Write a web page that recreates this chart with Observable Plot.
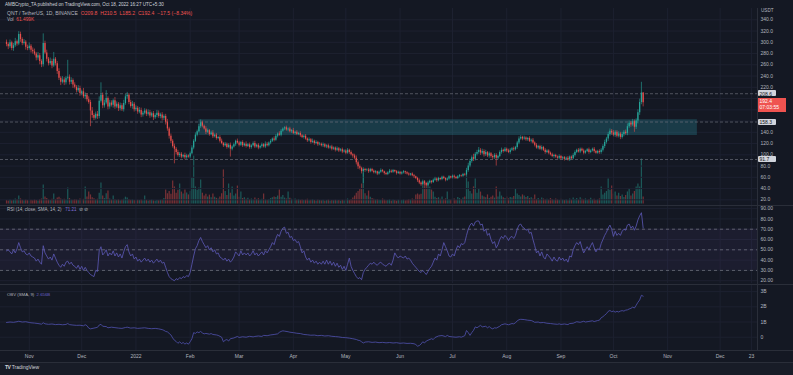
<!DOCTYPE html>
<html><head><meta charset="utf-8">
<script src="https://cdn.jsdelivr.net/npm/d3@7"></script>
<script src="https://cdn.jsdelivr.net/npm/@observablehq/plot@0.6"></script>
<style>
html,body{margin:0;padding:0;background:#131722;}
#root{position:relative;width:793px;height:375px;background:#141823;overflow:hidden;font-family:"Liberation Sans",Arial,sans-serif;}
#root svg{position:absolute;left:0;overflow:visible;}
.t{position:absolute;white-space:nowrap;line-height:1;}
.sep{position:absolute;background:#2a2e39;}
</style></head><body><div id="root"></div>
<script>
// ---------------- DATA ----------------
const firstDay = "2021-10-19";
const firstOpen = 300;
const closes = [
296,292,299,289,294,301,297,314,305,298,
300,291,289,293,286,283,279,272,276,266,
260,298,281,270,262,266,258,270,262,248,
236,229,233,228,236,238,229,232,224,220,
214,218,209,212,203,206,198,193,178,170,
165,172,168,195,206,187,192,200,185,192,
188,196,185,190,182,187,180,191,203,206,
193,186,190,180,183,176,179,171,174,178,
172,175,169,173,166,170,174,168,171,165,
168,158,146,133,124,115,110,104,99,101,
96,99,95,98,96,102,112,124,135,141,
150,157,151,146,140,143,136,139,132,135,
129,131,124,120,116,119,113,117,110,114,
118,124,121,117,122,116,119,115,118,113,
116,120,114,117,112,115,118,114,119,116,
121,124,128,126,133,137,135,142,146,148,
144,146,141,143,138,140,136,138,134,131,
133,128,125,127,122,124,120,122,118,119,
116,118,114,116,112,114,110,112,108,111,
107,109,105,107,103,108,104,100,98,94,
86,79,76,70,74,72,73,70,74,71,
68,70,66,69,72,70,67,65,68,71,
69,72,70,67,69,66,68,70,68,66,
64,66,63,61,58,54,50,47,52,49,
46,50,53,51,55,57,54,58,56,60,
58,55,57,61,59,62,60,58,61,63,
62,65,64,72,80,88,95,92,101,104,
108,103,106,100,104,98,102,97,95,99,
94,97,104,108,106,110,107,104,108,111,
109,113,121,128,131,128,130,127,129,124,
126,121,117,112,115,110,113,108,104,107,
103,100,97,99,96,94,97,93,95,92,
94,91,96,93,99,104,108,105,110,107,
103,106,109,104,107,110,106,103,106,104,
108,115,122,128,136,142,139,135,140,133,
137,131,136,140,138,150,156,153,159,149,
160,175,193,209.9,192.4];
const upWick = [
4,3,5,3,4,6,3,5,4,3, 5,3,4,6,3,4,5,3,6,4, 3,17,4,5,3,6,4,12,3,4, 5,3,6,4,3,30,4,5,3,4,
3,5,4,3,6,4,3,5,4,6, 3,4,5,8,22,4,5,14,3,5, 4,3,6,4,3,5,4,6,4,5, 3,4,5,3,4,3,5,4,3,4,
3,5,4,3,4,3,5,4,3,4, 3,4,5,3,4,3,4,3,4,3, 3,2,4,3,2,3,4,3,4,3, 4,5,3,2,4,3,2,3,4,2,
3,2,3,4,2,3,2,3,4,2, 3,2,4,3,2,3,2,4,2,3, 2,3,4,2,3,2,3,2,4,3, 2,3,2,4,3,2,4,3,2,2,
3,2,3,2,4,2,3,2,3,2, 2,3,2,3,2,4,2,3,2,3, 2,3,2,2,3,2,3,2,2,3, 2,2,3,2,2,3,2,3,2,3,
4,3,3,2,3,2,2,3,2,2, 2,2,1,2,3,2,1,2,2,3, 2,2,1,2,2,1,2,2,1,2, 2,1,2,2,1,2,3,2,3,2,
2,3,2,1,2,3,2,2,1,2, 2,1,2,2,1,2,2,1,2,2, 1,2,2,4,5,4,3,6,3,4, 5,3,4,3,4,2,3,2,3,3,
3,2,3,4,2,3,2,3,3,2, 3,2,3,4,3,2,3,2,2,3, 2,3,2,3,2,2,3,2,3,2, 2,2,3,2,2,2,3,2,2,2,
2,3,2,2,3,3,2,3,2,2, 3,2,2,3,2,2,3,2,2,3, 3,3,4,3,4,4,3,4,3,3, 4,3,4,3,4,5,4,3,4,3,
4,5,6,19,0.7];
const downWick = [
4,5,3,4,5,3,4,3,5,4, 3,5,4,3,5,4,3,5,4,6, 5,4,3,5,4,3,5,3,4,5, 4,6,3,5,4,3,5,4,6,3,
4,3,5,4,3,5,4,3,28,5, 4,3,5,4,3,5,4,3,5,4, 3,5,4,3,5,4,3,4,3,4, 4,3,5,4,3,4,3,5,4,3,
4,3,4,3,5,3,4,3,4,5, 4,5,4,5,4,3,26,4,3,4, 3,2,4,3,2,3,2,3,2,3, 2,3,3,2,4,2,3,2,3,2,
3,2,3,2,3,2,3,2,14,3, 2,3,2,3,2,3,2,3,2,3, 3,2,3,2,3,2,3,2,3,2, 2,3,2,3,2,3,2,3,2,3,
2,3,2,3,2,3,2,2,3,2, 3,2,3,2,3,2,3,2,3,2, 2,3,2,3,2,2,3,2,3,2, 3,2,3,2,3,2,3,2,4,3,
4,5,3,4,21,3,2,3,2,2, 2,2,3,2,2,2,3,2,2,2, 2,2,2,3,2,2,2,2,3,2, 2,2,2,3,2,3,3,3,2,3,
2,2,2,3,2,2,3,2,2,2, 2,3,2,2,2,2,3,2,2,2, 2,2,2,2,3,3,3,4,3,3, 3,4,3,4,3,3,4,3,4,3,
14,3,2,3,3,2,3,2,3,2, 3,2,3,3,2,3,2,3,3,2, 3,2,3,2,3,2,3,2,3,2, 3,2,2,3,2,2,3,2,2,3,
2,2,3,2,2,3,2,2,3,2, 3,2,2,3,2,2,3,2,2,3, 3,3,4,3,4,3,4,3,4,3, 3,4,3,4,3,4,3,4,3,9,
4,5,5,4,7.2];
const volumeK = [
30,26,35,28,33,44,38,70,45,32, 28,35,30,26,33,29,36,31,27,40, 44,167,62,48,36,31,42,88,40,52, 60,45,38,41,35,140,48,36,33,40,
37,30,44,36,41,150,62,105,80,55, 46,38,42,95,185,70,48,90,114,44, 36,70,40,33,38,29,35,42,60,52, 40,33,37,30,28,34,31,36,29,70,
32,27,30,35,28,26,31,29,33,36, 48,123,90,110,85,202,150,95,120,176, 105,88,123,96,80,110,230,422,150,120, 140,211,95,70,85,62,78,55,88,60,
50,45,62,90,300,110,75,176,95,150, 70,88,158,60,105,48,55,42,50,38, 44,36,52,40,47,35,42,88,38,33, 40,48,55,62,58,70,123,60,75,52,
45,105,50,42,38,44,35,40,33,37, 30,35,42,28,33,38,30,26,35,31, 28,32,26,30,35,27,31,29,33,28, 30,26,34,29,37,44,31,40,52,70,
95,110,130,176,273,90,70,114,60,48, 42,36,40,33,30,44,35,28,31,38, 27,35,30,26,33,29,31,36,28,32, 40,35,44,38,80,88,79,85,160,202,
180,176,150,123,105,60,48,55,42,62, 38,45,105,40,36,50,44,33,58,48, 40,53,62,246,194,110,88,150,220,95, 132,105,70,62,55,80,48,60,70,52,
150,62,105,70,55,48,62,45,58,52, 66,132,88,75,62,80,70,58,66,48, 55,44,79,40,48,36,52,44,38,42, 35,48,40,33,44,37,30,42,36,31,
38,29,44,35,52,40,48,36,55,42, 38,45,33,40,50,36,42,31,38,44, 150,80,95,110,220,120,158,88,105,70, 95,66,80,58,75,106,132,70,88,110,
150,176,150,396,61.499];
const rsi = [
49,50,48,46,50,47,51,57,52,48, 49,46,45,47,44,43,42,39,41,38, 36,54,47,44,41,43,40,46,42,38, 35,33,36,34,38,39,36,38,35,34,
32,35,31,34,30,33,30,28,26,25, 24,30,29,49,53,45,47,50,44,47, 45,49,44,47,43,46,42,48,53,55, 48,44,46,41,43,39,41,38,40,42,
39,41,38,40,37,39,41,38,40,37, 38,33,28,24,22,21,20,22,21,23, 22,24,23,25,24,28,36,44,51,54, 59,62,58,55,52,54,50,52,48,50,
46,47,43,42,40,42,39,41,38,40, 43,48,46,44,49,45,47,45,47,44, 46,49,45,47,44,46,48,45,49,47, 50,53,57,55,61,65,63,68,71,72,
66,67,62,63,59,60,57,58,53,47, 49,43,40,42,38,40,37,39,36,38, 36,39,36,40,36,39,35,38,34,37, 33,35,31,34,30,36,42,34,30,27,
24,22,23,21,28,31,33,35,37,36, 38,36,35,37,38,36,35,34,36,37, 35,40,47,44,42,44,43,42,44,41, 42,40,37,35,33,31,29,28,30,28,
26,29,32,34,38,42,40,46,44,50, 57,53,49,44,43,46,44,50,54,52, 56,55,57,64,70,74,76,73,77,78, 78,74,75,68,70,64,66,60,56,58,
52,55,60,63,61,64,62,59,62,63, 61,64,70,74,75,72,71,69,70,66, 67,60,54,47,49,44,48,43,41,46, 44,42,39,43,40,39,43,40,42,39,
41,38,44,43,50,54,57,55,58,52, 47,50,53,50,54,57,52,48,51,50, 56,60,64,67,71,74,70,63,68,64, 66,64,68,70,69,74,75,71,73,69,
73,79,83,86,71.21];
const obvSamples = [ // [day index, OBV in billions]
[0,0.97],[2,1.0],[4,0.98],[6,1.02],[7,1.05],[9,1.0],[11,1.02],[13,0.97],[14,0.95],[16,0.93],[18,0.9],[20,0.86],[21,0.95],[22,0.88],
[24,0.85],[26,0.87],[28,0.83],[30,0.85],[32,0.82],[34,0.84],[35,0.9],[36,0.83],[38,0.8],[40,0.78],[42,0.79],[44,0.75],[45,0.82],
[46,0.76],[47,0.6],[48,0.55],[50,0.6],[52,0.65],[53,0.8],[54,0.85],[55,0.72],[57,0.7],[58,0.62],[60,0.66],[62,0.63],[64,0.6],
[66,0.58],[68,0.64],[69,0.66],[71,0.6],[73,0.62],[75,0.58],[77,0.6],[79,0.62],[81,0.58],[83,0.56],[85,0.58],[87,0.55],[89,0.5],
[90,0.45],[91,0.38],[92,0.35],[93,0.25],[94,0.15],[95,-0.05],[96,-0.2],[97,-0.28],[98,-0.4],[99,-0.3],[100,-0.42],[101,-0.35],
[102,-0.45],[103,-0.38],[104,-0.46],[105,-0.3],[106,-0.1],[107,0.3],[108,0.25],[109,0.35],[110,0.3],[111,0.38],[112,0.28],
[113,0.22],[114,0.25],[116,0.2],[117,0.24],[118,0.18],[120,0.15],[121,0.12],[123,0.0],[124,-0.3],[125,-0.2],[126,-0.15],
[127,-0.25],[128,-0.1],[130,-0.05],[132,0.05],[133,-0.02],[135,0.03],[137,0.0],[139,0.06],[141,0.02],[142,0.05],[144,0.08],
[146,0.05],[147,0.12],[149,0.1],[151,0.15],[153,0.18],[155,0.22],[156,0.32],[157,0.38],[158,0.42],[159,0.4],[161,0.36],
[162,0.33],[164,0.3],[166,0.26],[168,0.24],[170,0.18],[172,0.16],[174,0.13],[176,0.14],[178,0.1],[180,0.12],[182,0.08],
[184,0.1],[186,0.06],[188,0.04],[190,0.02],[192,-0.02],[194,-0.03],[196,-0.06],[198,-0.1],[200,-0.15],[201,-0.2],[202,-0.22],
[203,-0.3],[204,-0.38],[205,-0.32],[207,-0.3],[209,-0.34],[211,-0.32],[213,-0.36],[215,-0.34],[217,-0.37],[219,-0.35],
[221,-0.38],[223,-0.36],[225,-0.4],[227,-0.38],[229,-0.41],[231,-0.4],[233,-0.43],[234,-0.48],[235,-0.59],[236,-0.55],
[237,-0.45],[238,-0.3],[239,-0.38],[240,-0.25],[241,-0.2],[243,-0.1],[244,-0.15],[245,-0.02],[247,0.08],[249,0.11],[251,0.04],
[252,0.12],[253,0.05],[255,0.02],[257,0.0],[259,0.03],[260,0.0],[262,0.1],[263,0.44],[264,0.3],[265,0.12],[266,0.3],[267,0.45],
[268,0.68],[269,0.62],[270,0.7],[271,0.78],[272,0.68],[274,0.72],[275,0.62],[276,0.7],[277,0.6],[278,0.55],[279,0.62],[280,0.6],
[282,0.72],[283,0.82],[285,0.88],[286,0.85],[287,0.82],[289,0.9],[290,0.88],[291,0.95],[292,1.08],[293,1.15],[294,1.18],
[296,1.16],[298,1.12],[300,1.1],[301,1.05],[302,0.98],[304,1.0],[305,0.95],[307,0.97],[309,0.92],[311,0.9],[313,0.87],
[315,0.85],[316,0.88],[317,0.84],[319,0.87],[321,0.83],[322,0.9],[324,0.92],[325,0.97],[326,1.02],[328,0.98],[330,1.05],
[331,1.0],[333,1.04],[335,1.08],[336,1.03],[338,1.1],[339,1.12],[340,1.28],[341,1.35],[342,1.45],[343,1.55],[344,1.7],
[345,1.76],[346,1.68],[347,1.72],[348,1.65],[349,1.7],[350,1.66],[351,1.72],[352,1.75],[353,1.72],[354,1.78],[355,1.8],
[356,1.86],[357,1.9],[358,1.98],[359,1.92],[360,2.1],[361,2.3],[362,2.45],[363,2.76],[364,2.7]];

const priceGrid = [20,40,60,80,100,120,140,160,180,200,220,240,260,280,300,320,340];
const priceAxisTicks = [20,40,60,80,100,120,140,220,240,260,280,300,320,340]; // 160-200 are hidden behind the price tags
const rsiTicks = [20,30,40,50,60,70,80,90];
const rsiLevels = [70,50,30];
const obvTicks = [0,1,2,3];
const obvTickLabels = ["0","1B","2B","3B"];
const monthTicks = ["2021-11-01","2021-12-01","2022-01-01","2022-02-01","2022-03-01","2022-04-01","2022-05-01",
  "2022-06-01","2022-07-01","2022-08-01","2022-09-01","2022-10-01","2022-11-01","2022-12-01","2022-12-19"];
const monthLabels = ["Nov","Dec","2022","Feb","Mar","Apr","May","Jun","Jul","Aug","Sep","Oct","Nov","Dec","23"];
const levelLines = [208.6, 158.3, 91.7];
const zone = [{start:"2022-02-06", end:"2022-11-18", top:162.4, bottom:134.3}];
const lastPrice = 192.4, countdown = "07:03:55";

// ---------------- STYLE ----------------
const FONT = '"Liberation Sans", Arial, sans-serif';
const UP = "#26a69a", DOWN = "#e84e4b", GRID = "#1d2130", AXIS = "#b2b5be";
const xDomain = [new Date("2021-10-15T13:30Z"), new Date("2022-12-22T09:00Z")];
const root = document.getElementById("root");

const day0 = new Date(firstDay + "T00:00Z");
const candles = closes.map((c, i) => {
  const o = i === 0 ? firstOpen : closes[i - 1];
  return {date: d3.utcDay.offset(day0, i), open: o, close: c,
    high: Math.max(o, c) + upWick[i], low: Math.min(o, c) - downWick[i],
    vol: volumeK[i], rsi: rsi[i], color: c >= o ? UP : DOWN};
});
const obv = obvSamples.map(([d, v]) => ({date: d3.utcDay.offset(day0, d), v}));
const monthDates = monthTicks.map(s => new Date(s + "T00:00Z"));
const zoneData = zone.map(z => ({...z, start: new Date(z.start + "T00:00Z"), end: new Date(z.end + "T00:00Z")}));

const base = {width: 793, marginLeft: 0, marginRight: 36, marginTop: 0,
  style: {background: "transparent", color: AXIS, fontSize: "5px", fontFamily: FONT}};

function put(el, top) { el.style.top = top + "px"; root.appendChild(el); return el; }
function text(html, left, top, size, color, extra) {
  const d = document.createElement("div"); d.className = "t"; d.innerHTML = html;
  d.style.left = left + "px"; d.style.top = top + "px"; d.style.fontSize = size + "px"; d.style.color = color;
  if (extra) Object.assign(d.style, extra);
  root.appendChild(d); return d;
}
function sep(l, t, w, h) { const d = document.createElement("div"); d.className = "sep";
  Object.assign(d.style, {left: l + "px", top: t + "px", width: w + "px", height: h + "px"}); root.appendChild(d); }

// volume (behind price)
const PRICE_TOP = 8, PRICE_H = 197;
put(Plot.plot({...base, height: PRICE_H, marginBottom: 1.5,
  x: {type: "utc", domain: xDomain, axis: null},
  y: {domain: [0, 1720], axis: null},
  color: {type: "identity"},
  marks: [Plot.ruleX(candles, {x: "date", y: "vol", stroke: "color", strokeOpacity: 0.45, strokeWidth: 1.25})]
}), PRICE_TOP);

// price
const price = Plot.plot({...base, height: PRICE_H, marginBottom: 0,
  x: {type: "utc", domain: xDomain, axis: null},
  y: {domain: [9.9, 360.1], axis: "right", ticks: priceAxisTicks, tickFormat: d => d.toFixed(1), tickSize: 0, tickPadding: 3, label: null},
  color: {type: "identity"},
  marks: [
    Plot.ruleY(priceGrid, {stroke: GRID}),
    Plot.ruleX(monthDates, {stroke: GRID}),
    Plot.rect(zoneData, {x1: "start", x2: "end", y1: "bottom", y2: "top", fill: "#2a8ea0", fillOpacity: 0.3}),
    Plot.ruleY(levelLines, {stroke: "#6a6d78", strokeDasharray: "3,2", strokeWidth: 0.7}),
    Plot.ruleX(candles, {x: "date", y1: "low", y2: "high", stroke: "color", strokeWidth: 0.6}),
    Plot.ruleX(candles, {x: "date", y1: "open", y2: "close", stroke: "color", strokeWidth: 1.25})
  ]
});
put(price, PRICE_TOP);

// RSI
const RSI_TOP = 205;
put(Plot.plot({...base, height: 78, marginBottom: 0,
  x: {type: "utc", domain: xDomain, axis: null},
  y: {domain: [17.3, 93.0], axis: "right", ticks: rsiTicks, tickFormat: d => d.toFixed(2), tickSize: 0, tickPadding: 3, label: null},
  marks: [
    Plot.ruleY(rsiTicks, {stroke: GRID}),
    Plot.ruleX(monthDates, {stroke: GRID}),
    Plot.rect([{a: xDomain[0], b: xDomain[1], lo: 30, hi: 70}], {x1: "a", x2: "b", y1: "lo", y2: "hi", fill: "#7e57c2", fillOpacity: 0.08}),
    Plot.ruleY(rsiLevels, {stroke: "#787b86", strokeDasharray: "3,3", strokeWidth: 0.7}),
    Plot.line(candles, {x: "date", y: "rsi", stroke: "#5d59b8", strokeWidth: 0.8})
  ]
}), RSI_TOP);

// OBV + time axis
const OBV_TOP = 284;
put(Plot.plot({...base, height: 79, marginBottom: 13,
  x: {type: "utc", domain: xDomain, axis: "bottom", ticks: monthDates, tickSize: 0, tickPadding: 4, label: null,
      tickFormat: d => monthLabels[monthDates.findIndex(m => +m === +d)]},
  y: {domain: [-0.875, 3.47], axis: "right", ticks: obvTicks, tickSize: 0, tickPadding: 3, label: null,
      tickFormat: d => obvTickLabels[obvTicks.indexOf(d)]},
  marks: [
    Plot.ruleY(obvTicks, {stroke: GRID}),
    Plot.ruleX(monthDates, {stroke: GRID}),
    Plot.line(obv, {x: "date", y: "v", stroke: "#5052b0", strokeWidth: 0.8})
  ]
}), OBV_TOP);

// separators
sep(0, RSI_TOP, 793, 1); sep(0, OBV_TOP, 793, 1); sep(0, 350, 793, 1); sep(757, PRICE_TOP, 1, 342);

// price-scale tags positioned with the y scale
const ys = price.scale("y");
function tag(v, label) {
  const y = PRICE_TOP + ys.apply(v);
  return text(label, 757.5, y - 3, 5, "#131722", {background: "#d1d4dc", padding: "0.5px 2px", height: "6px", lineHeight: "6px",
    borderRadius: "1px", width: "18px", boxSizing: "border-box"});
}
levelLines.forEach(v => tag(v, v.toFixed(1)));
text(lastPrice.toFixed(1) + "<br>" + countdown, 757.5, PRICE_TOP + ys.apply(lastPrice) - 4, 5, "#ffffff",
  {background: "#ef5350", padding: "1px 2px", lineHeight: "1.15", width: "28px", boxSizing: "border-box"});
text("USDT", 761, 9, 4.6, AXIS);

// legends / header
text("AMBCrypto_TA published on TradingView.com, Oct 18, 2022 16:27 UTC+5:30", 5, 2.5, 4.6, "#d1d4dc");
text('QNT / TetherUS, 1D, BINANCE&nbsp;&nbsp;<span style="color:#ef5350">O209.8&nbsp; H210.5&nbsp; L185.2&nbsp; C192.4&nbsp; −17.5 (−8.34%)</span>', 7, 11, 5.1, AXIS);
text('Vol&nbsp;&nbsp;<span style="color:#ef5350">61.499K</span>', 7, 18, 4.8, AXIS);
text('RSI (14, close, SMA, 14, 2)&nbsp;&nbsp;&nbsp;<span style="color:#7e6fd6">71.21</span>&nbsp; ⊘ ⊘', 7, 207.5, 4.5, AXIS);
text('OBV (SMA, 9)&nbsp;&nbsp;<span style="color:#6a62c6">2.656B</span>', 7, 292.5, 4.3, AXIS);

// footer
const f = document.createElement("div");
Object.assign(f.style, {position: "absolute", left: "0px", top: "362px", width: "793px", height: "13px", background: "#181c27", borderTop: "1px solid #2a2e39"});
root.appendChild(f);
text('<b style="letter-spacing:-0.5px">TV</b> TradingView', 5, 365, 5, "#d1d4dc");
</script></body></html>
